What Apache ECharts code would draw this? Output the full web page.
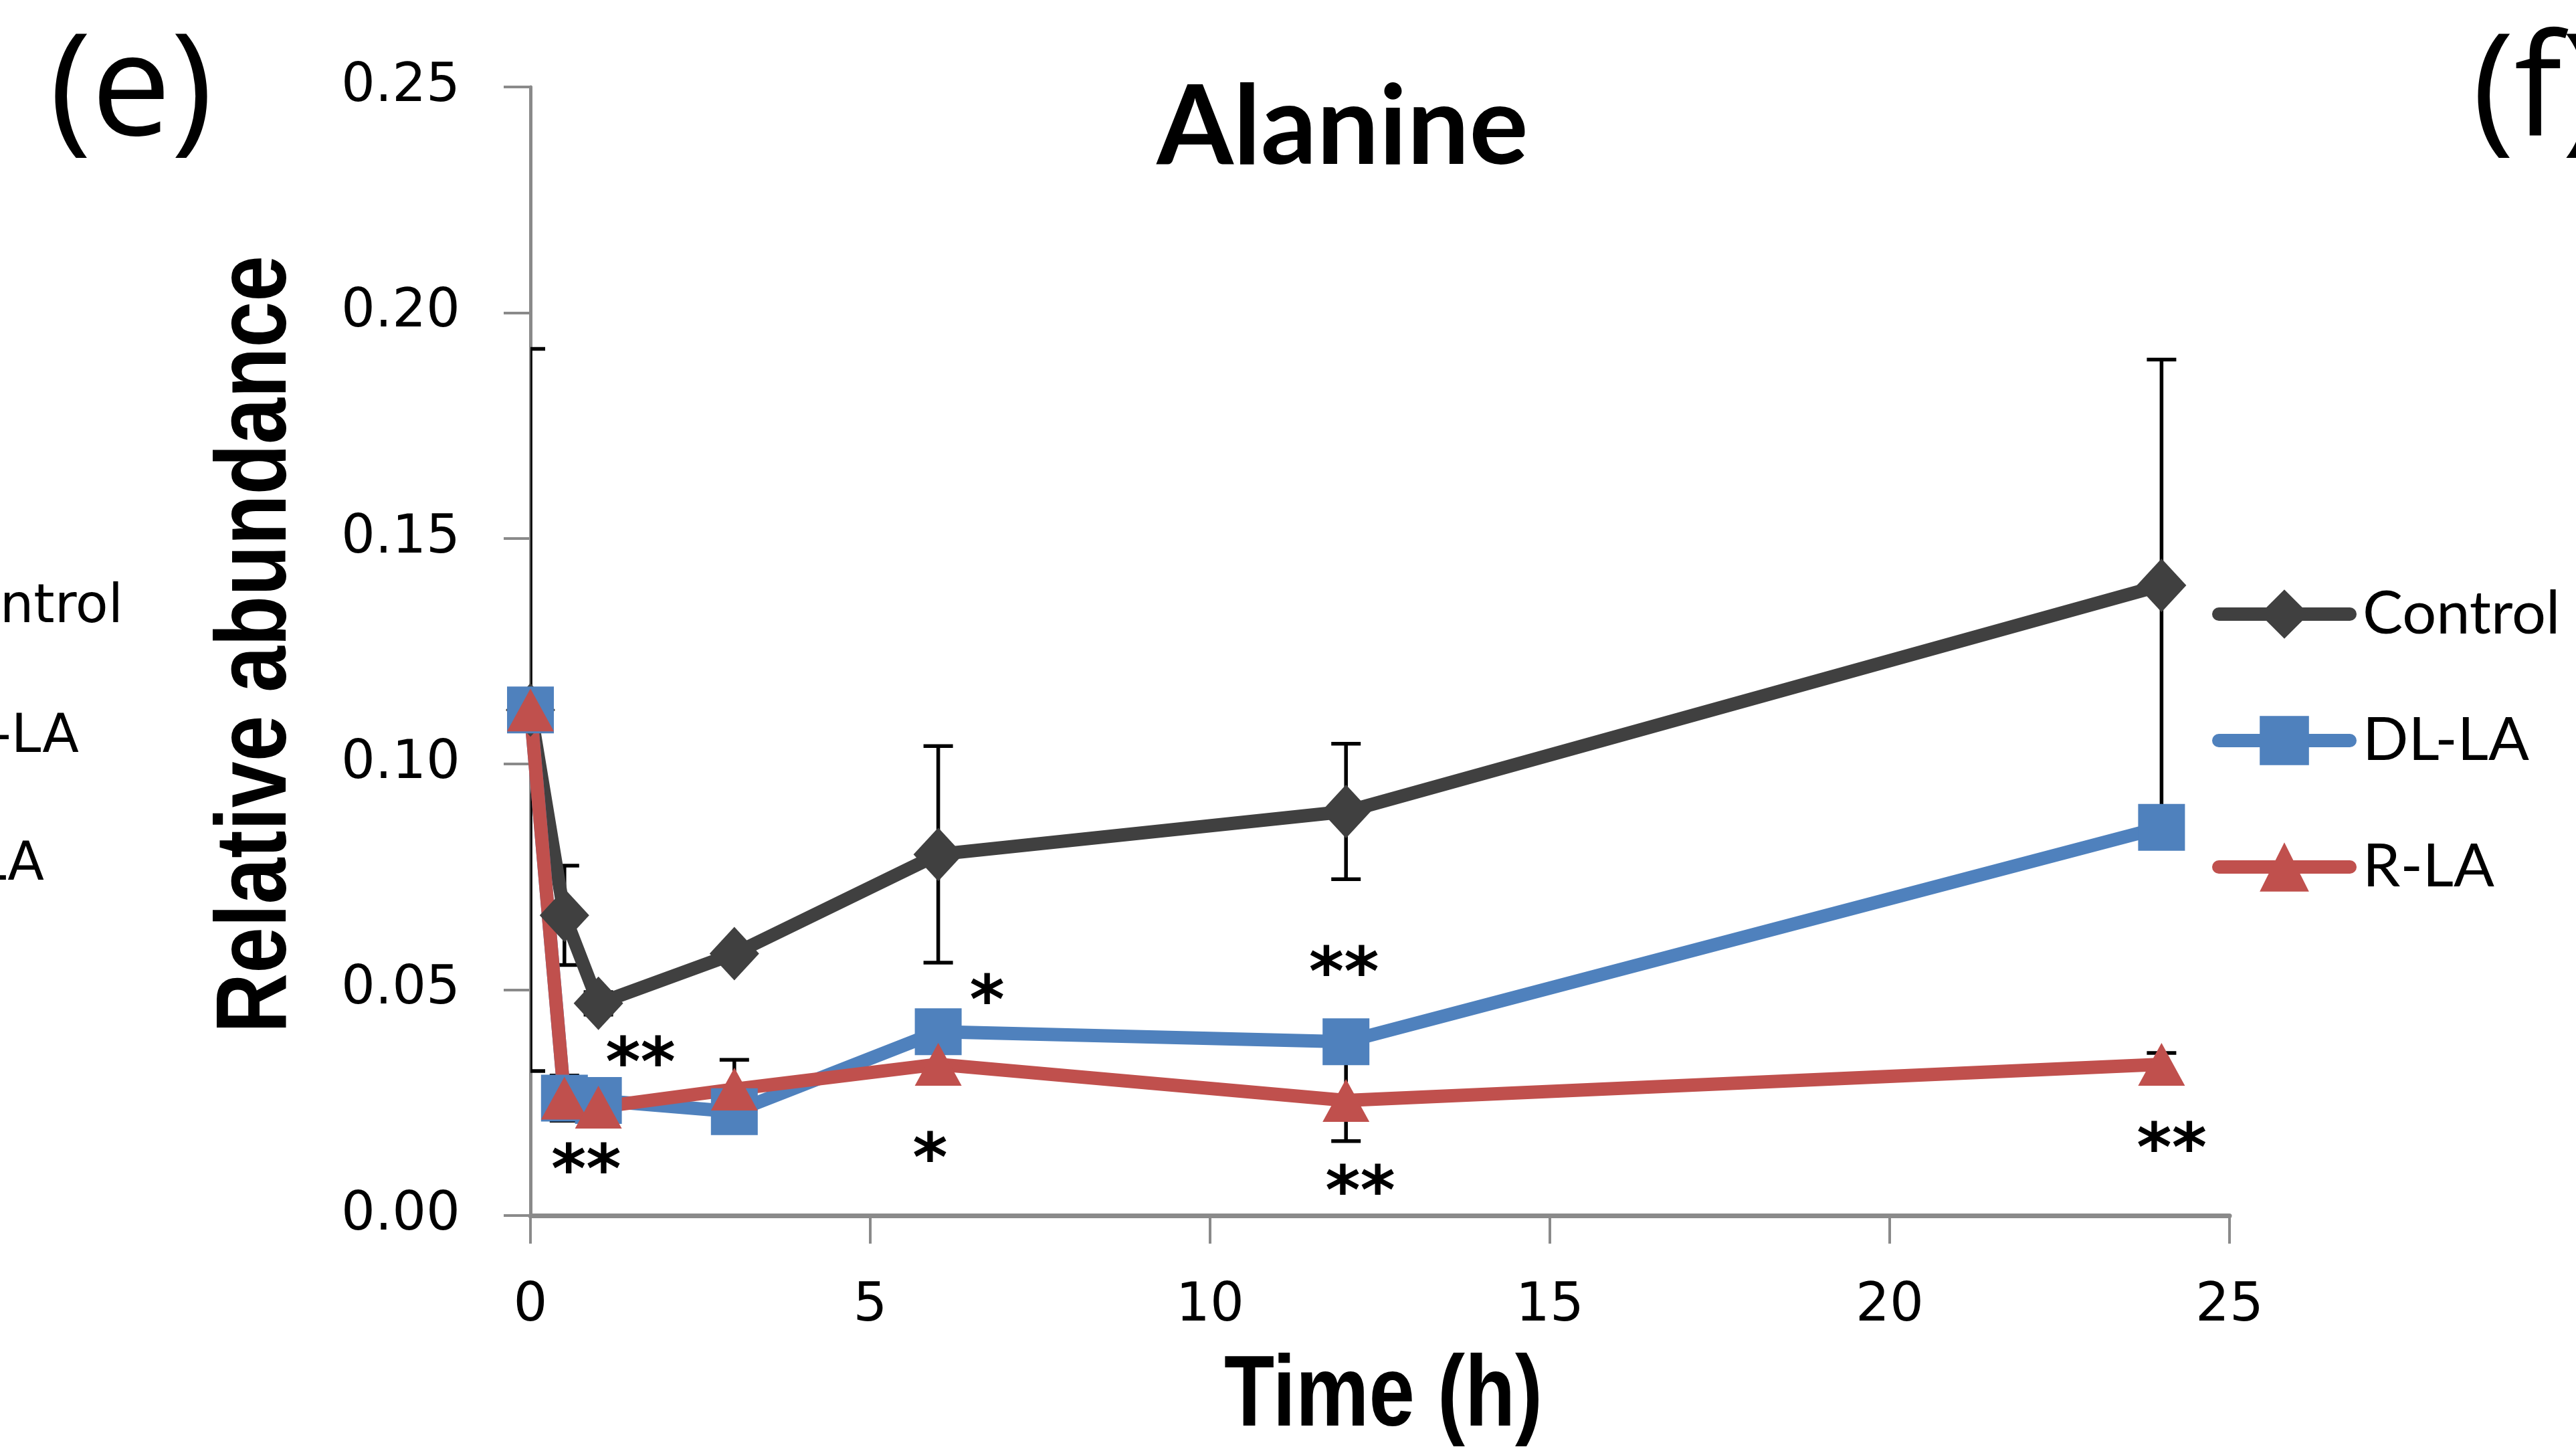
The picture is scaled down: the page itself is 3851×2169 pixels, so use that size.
<!DOCTYPE html>
<html><head><meta charset="utf-8">
<script src="https://cdn.jsdelivr.net/npm/echarts@6/dist/echarts.min.js"></script>
<style>html,body{margin:0;padding:0;background:#fff;} #c{width:3851px;height:2169px;}</style>
</head><body><div id="c"></div>
<script>
// ---- data ----
const times = [0, 0.5, 1, 3, 6, 12, 24];
const seriesNames = ['Control', 'DL-LA', 'R-LA'];
const controlVals = [0.112, 0.0665, 0.047, 0.058, 0.080, 0.0895, 0.1396];
const dllaVals    = [0.112, 0.026, 0.0255, 0.023, 0.0407, 0.0385, 0.086];
const rlaVals     = [0.112, 0.026, 0.024, 0.028, 0.0335, 0.0255, 0.0335];
const controlErr  = [0.080, 0.011, 0.0025, 0, 0.024, 0.015, 0.050];
const dllaErr     = [0, 0.005, 0, 0, 0, 0, 0];
const rlaErr      = [0, 0, 0, 0.0065, 0, 0.009, 0.0025];
const yTickLabels = ['0.00', '0.05', '0.10', '0.15', '0.20', '0.25'];
const xTickLabels = ['0', '5', '10', '15', '20', '25'];
const sigX    = [1.62, 0.82, 6.72, 5.88, 11.97, 12.21, 24.15];
const sigY    = [0.0364, 0.0127, 0.0502, 0.0153, 0.0564, 0.008, 0.0175];
const sigText = ['**', '**', '*', '*', '**', '**', '**'];
const otherPanelLegend = ['Control', 'DL-LA', 'R-LA'];
const titleText = 'Alanine';
const xName = 'Time (h)';
const yName = 'Relative abundance';

const colors = {Control: '#404040', 'DL-LA': '#4F81BD', 'R-LA': '#C0504D'};
const axisGray = '#8a8a8a';

function errSeries(vals, errs) {
  return {
    type: 'custom', z: 1, clip: true, silent: true,
    data: times.map((t, i) => [t, vals[i] - errs[i], vals[i] + errs[i], errs[i]]),
    encode: {x: 0, y: [1, 2]},
    renderItem(params, api) {
      if (api.value(3) === 0) return null;
      const lo = api.coord([api.value(0), api.value(1)]);
      const hi = api.coord([api.value(0), api.value(2)]);
      const hw = 22;
      const st = {stroke: '#000', lineWidth: 5.5};
      return {type: 'group', children: [
        {type: 'line', shape: {x1: lo[0], y1: lo[1], x2: hi[0], y2: hi[1]}, style: st},
        {type: 'line', shape: {x1: lo[0] - hw, y1: lo[1], x2: lo[0] + hw, y2: lo[1]}, style: st},
        {type: 'line', shape: {x1: hi[0] - hw, y1: hi[1], x2: hi[0] + hw, y2: hi[1]}, style: st}
      ]};
    }
  };
}

function lineSeries(name, vals, symbol, size) {
  return {
    type: 'line', name: name, z: 2,
    data: times.map((t, i) => [t, vals[i]]),
    symbol: symbol, symbolSize: size,
    lineStyle: {color: colors[name], width: 20, join: 'round', cap: 'round'},
    itemStyle: {color: colors[name], opacity: 1},
    emphasis: {disabled: true}
  };
}

const chart = echarts.init(document.getElementById('c'), null, {renderer: 'canvas'});
chart.setOption({
  animation: false,
  backgroundColor: '#fff',
  grid: {left: 793, right: 518, top: 130, bottom: 352, containLabel: false},
  xAxis: {
    type: 'value', min: 0, max: 25, interval: 5,
    axisLine: {show: true, onZero: false, lineStyle: {color: axisGray, width: 7}},
    axisTick: {show: true, inside: false, length: 42, lineStyle: {color: axisGray, width: 4}},
    axisLabel: {margin: 96, fontFamily: 'DejaVu Sans', fontSize: 80, lineHeight: 80, color: '#000',
      formatter: v => xTickLabels[Math.round(v / 5)]},
    splitLine: {show: false}
  },
  yAxis: {
    type: 'value', min: 0, max: 0.25, interval: 0.05,
    axisLine: {show: true, lineStyle: {color: axisGray, width: 5}},
    axisTick: {show: true, inside: false, length: 40, lineStyle: {color: axisGray, width: 4}},
    axisLabel: {margin: 105, fontFamily: 'DejaVu Sans', fontSize: 80, color: '#000',
      formatter: v => yTickLabels[Math.round(v / 0.05)]},
    splitLine: {show: false}
  },
  legend: {
    data: seriesNames, orient: 'vertical', left: 3302, top: 868,
    itemWidth: 196, itemHeight: 92, itemGap: 99,
    textStyle: {fontFamily: 'Lato', fontSize: 90, color: '#000', padding: [0, 0, 0, 14]},
    lineStyle: {width: 20, cap: 'round'},
    selectedMode: false
  },
  graphic: [
    {type: 'text', left: 74, top: 36, style: {text: '(e)', font: '212px "Open Sans"', fill: '#000'}},
    {type: 'text', left: 3696, top: 36, style: {text: '(f)', font: '212px "Open Sans"', fill: '#000'}},
    {type: 'text', x: 2007, y: 192, style: {text: titleText, font: 'bold 165px Lato', fill: '#000', textAlign: 'center', textVerticalAlign: 'middle'}},
    {type: 'text', x: 2068, y: 2090, scaleX: 0.82, style: {text: xName, font: 'bold 150px "Liberation Sans"', fill: '#000', textAlign: 'center', textVerticalAlign: 'middle'}},
    {type: 'text', x: 386, y: 963, rotation: Math.PI / 2, scaleX: 0.825, style: {text: yName, font: 'bold 150px "Liberation Sans"', fill: '#000', textAlign: 'center', textVerticalAlign: 'middle'}},
    {type: 'text', x: 184, y: 909, style: {text: otherPanelLegend[0], font: '80px "DejaVu Sans"', fill: '#000', textAlign: 'right', textVerticalAlign: 'middle'}},
    {type: 'text', x: 118, y: 1103, style: {text: otherPanelLegend[1], font: '80px "DejaVu Sans"', fill: '#000', textAlign: 'right', textVerticalAlign: 'middle'}},
    {type: 'text', x: 66, y: 1294, style: {text: otherPanelLegend[2], font: '80px "DejaVu Sans"', fill: '#000', textAlign: 'right', textVerticalAlign: 'middle'}}
  ],
  series: [
    errSeries(controlVals, controlErr),
    errSeries(dllaVals, dllaErr),
    errSeries(rlaVals, rlaErr),
    lineSeries('Control', controlVals, 'diamond', [74, 80]),
    lineSeries('DL-LA', dllaVals, 'rect', [70, 70]),
    lineSeries('R-LA', rlaVals, 'triangle', [70, 64]),
    {
      type: 'custom', z: 5, silent: true,
      data: sigX.map((x, i) => [x, sigY[i], i]),
      encode: {x: 0, y: 1},
      renderItem(params, api) {
        const p = api.coord([api.value(0), api.value(1)]);
        const idx = api.value(2);
        return {type: 'text', x: p[0], y: p[1] + 25,
          style: {text: sigText[idx], font: 'bold 100px "DejaVu Sans"', fill: '#000', textAlign: 'center', textVerticalAlign: 'middle'}};
      }
    }
  ]
});
</script></body></html>
